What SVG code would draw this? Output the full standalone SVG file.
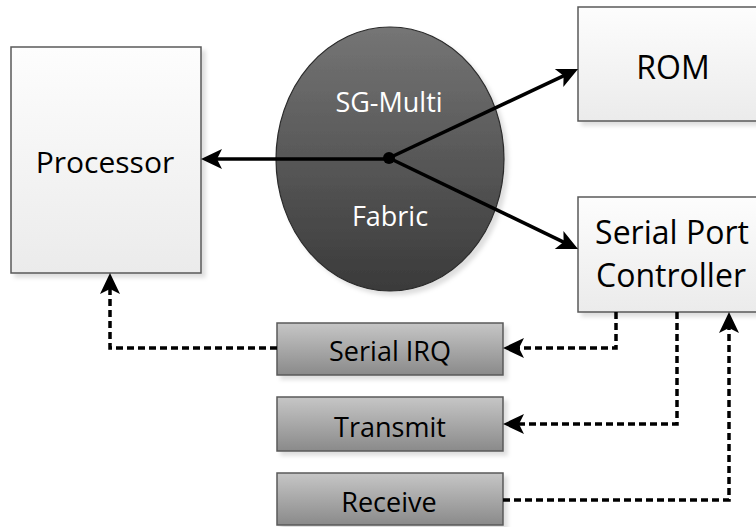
<svg xmlns="http://www.w3.org/2000/svg" width="756" height="527" viewBox="0 0 756 527">
<defs>
  <linearGradient id="gWhite" x1="0" y1="0" x2="0" y2="1">
    <stop offset="0" stop-color="#fdfdfd"/>
    <stop offset="1" stop-color="#ebebeb"/>
  </linearGradient>
  <linearGradient id="gGray" x1="0" y1="0" x2="0" y2="1">
    <stop offset="0" stop-color="#c6c6c6"/>
    <stop offset="1" stop-color="#8a8a8a"/>
  </linearGradient>
  <linearGradient id="gDark" x1="0" y1="0" x2="0" y2="1">
    <stop offset="0" stop-color="#757575"/>
    <stop offset="1" stop-color="#3a3a3a"/>
  </linearGradient>
  <filter id="shadow" x="-10%" y="-10%" width="130%" height="130%">
    <feDropShadow dx="4" dy="4" stdDeviation="2" flood-color="#000" flood-opacity="0.13"/>
  </filter>
  <marker id="arrow" markerUnits="userSpaceOnUse" viewBox="-12 -12 26 24" markerWidth="26" markerHeight="24" refX="0" refY="0" orient="auto">
    <path d="M12,0 L-9,-10 L-4,0 L-9,10 Z" fill="#000"/>
  </marker>
</defs>
<style>
  .box { stroke: #595959; stroke-width: 1.5; filter: url(#shadow); }
  .white { fill: url(#gWhite); }
  .gray { fill: url(#gGray); }
  .lbl { font-family: "Open Sans", "Liberation Sans", sans-serif; text-anchor: middle; fill: #000; }
  .inv { fill: #fff; }
  .solid { fill: none; stroke: #000; stroke-width: 3.5; marker-end: url(#arrow); }
  .dash { fill: none; stroke: #000; stroke-width: 3.5; stroke-dasharray: 7 4; marker-end: url(#arrow); }
</style>

<g id="processor">
  <rect class="box white" x="11" y="47" width="190" height="226"/>
  <text class="lbl" x="105" y="173" font-size="30">Processor</text>
</g>
<g id="fabric">
  <ellipse cx="390" cy="159" rx="114" ry="132" fill="url(#gDark)" stroke="#2a2a2a" stroke-width="1.2" filter="url(#shadow)"/>
  <text class="lbl inv" x="389" y="112" font-size="27">SG-Multi</text>
  <text class="lbl inv" x="390" y="226" font-size="27">Fabric</text>
</g>
<g id="rom">
  <rect class="box white" x="578" y="7" width="190" height="114"/>
  <text class="lbl" x="673" y="79" font-size="32">ROM</text>
</g>
<g id="spc">
  <rect class="box white" x="578" y="197" width="190" height="115"/>
  <text class="lbl" x="672" y="244" font-size="32">Serial Port</text>
  <text class="lbl" x="671" y="287" font-size="32">Controller</text>
</g>
<g id="serial-irq">
  <rect class="box gray" x="277" y="323" width="226" height="52"/>
  <text class="lbl" x="390" y="361" font-size="27">Serial IRQ</text>
</g>
<g id="transmit">
  <rect class="box gray" x="277" y="397" width="226" height="54"/>
  <text class="lbl" x="390" y="437" font-size="27">Transmit</text>
</g>
<g id="receive">
  <rect class="box gray" x="277" y="473" width="226" height="52"/>
  <text class="lbl" x="389" y="512" font-size="27">Receive</text>
</g>

<g id="connectors">
  <path class="solid" d="M389,159 H213"/>
  <path class="solid" d="M389,158 L567.2,74.1"/>
  <path class="solid" d="M389,158 L567.2,243.8"/>
  <circle cx="389" cy="158" r="6" fill="#000"/>
  <path class="dash" d="M277,348 H110 V285"/>
  <path class="dash" d="M616,312 V348 H515"/>
  <path class="dash" d="M677,312 V424 H515"/>
  <path class="dash" d="M503,500 H729 V324"/>
</g>
</svg>
